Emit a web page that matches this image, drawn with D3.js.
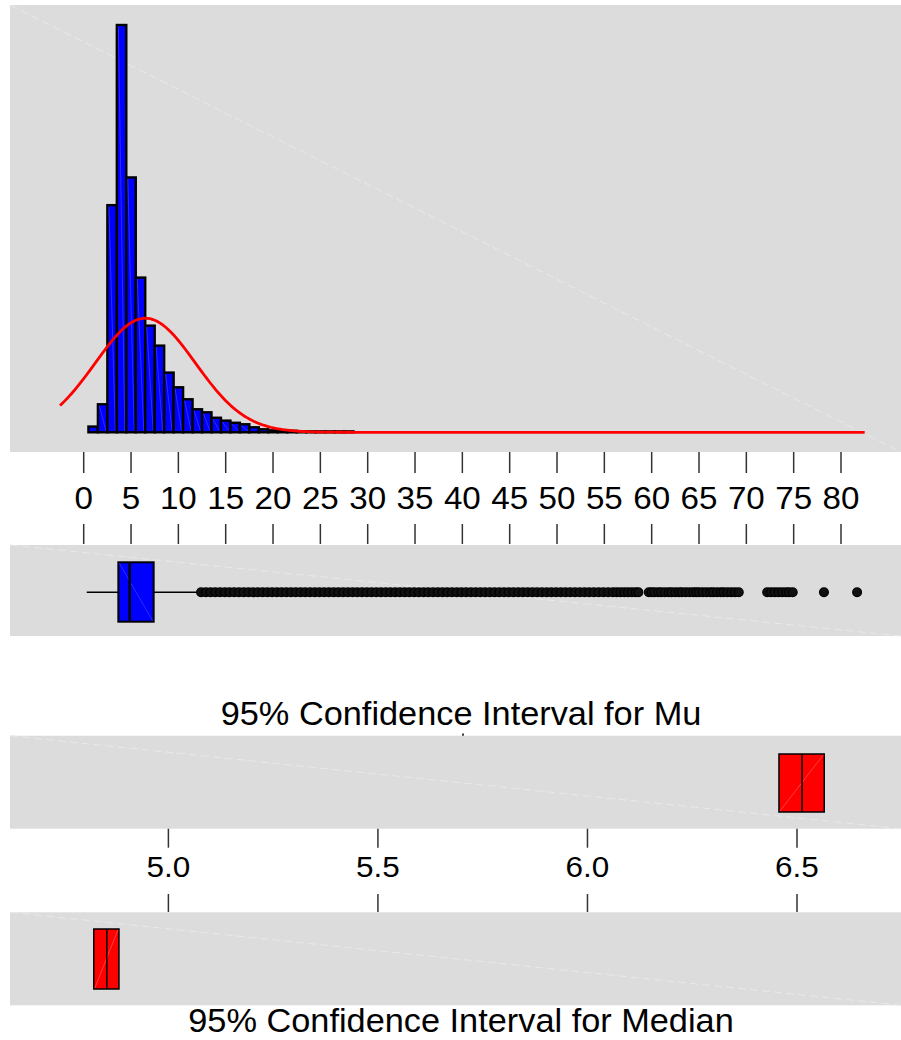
<!DOCTYPE html>
<html>
<head>
<meta charset="utf-8">
<script src="https://cdn.jsdelivr.net/npm/d3@7"></script>
<style>
html,body{margin:0;padding:0;background:#fff;}
svg{display:block;}
text{font-family:"Liberation Sans",Arial,Helvetica,sans-serif;fill:#000;}
</style>
</head>
<body>
<svg id="chart" width="901" height="1040"></svg>
<script>
// ---------- data ----------
const binCenters = [-2,-1,0,1,2,3,4,5,6,7,8,9,10,11,12,13,14,15,16,17,18,19,20,21,22,23,24,25,26,27,28];
const binFreq    = [0,0,0,0.38,1.85,14.99,26.88,16.82,10.21,7.04,5.72,3.94,2.97,2.18,1.52,1.32,0.96,0.77,0.63,0.53,0.33,0.20,0.13,0.13,0.10,0.06,0.06,0.06,0.06,0.06,0.06];
const binWidth = 1;
const fitMean = 6.51, fitSd = 5.3;
const curveRange = [-2.5, 82.5];
const histTicks = [0,5,10,15,20,25,30,35,40,45,50,55,60,65,70,75,80];

const boxStats = {min:0.32, q1:3.66, median:4.86, q3:7.39, max:11.94};
const outliers = [
 12.4,12.9,13.4,13.9,14.4,14.9,15.4,15.9,16.4,16.9,17.4,17.9,18.4,18.9,19.4,19.9,20.4,20.9,21.4,21.9,22.4,22.9,23.4,23.9,24.4,24.9,25.4,25.9,26.4,26.9,27.4,27.9,28.4,28.9,29.4,29.9,30.4,30.9,31.4,31.9,32.4,32.9,33.4,33.9,34.4,34.9,35.4,35.9,36.4,36.9,37.4,37.9,38.4,38.9,39.4,39.9,40.4,40.9,41.4,41.9,42.4,42.9,43.4,43.9,44.4,44.9,45.4,45.9,46.4,46.9,47.4,47.9,48.4,48.9,49.4,49.9,50.4,50.9,51.4,51.9,52.4,52.9,53.4,53.9,54.4,54.9,55.4,55.9,
 56.3,56.7,57.1,57.5,57.9,58.3,58.6,
 59.7,60.0,60.3,60.7,61.0,61.4,61.8,62.1,62.5,62.9,63.2,63.6,64.0,64.4,64.7,65.0,65.4,65.8,66.2,66.5,66.9,67.3,67.6,68.0,68.4,68.8,69.2,
 72.2,72.6,73.0,73.4,73.8,74.2,74.5,74.9,
 78.2,81.7];

const ciMu = {lo:6.457, mid:6.512, hi:6.565};
const ciMedian = {lo:4.822, mid:4.853, hi:4.882};
const ciTicks = [5.0,5.5,6.0,6.5];
const titleMu = "95% Confidence Interval for Mu";
const titleMedian = "95% Confidence Interval for Median";

// ---------- layout ----------
const svg = d3.select("#chart");
const PX0 = 10, PX1 = 901;
const panelFill = "#dcdcdc";
const diagColor = "#e9e9e9";

function panel(y0, y1){
  svg.append("rect").attr("x",PX0).attr("y",y0).attr("width",PX1-PX0).attr("height",y1-y0).attr("fill",panelFill);
  svg.append("line").attr("x1",PX0).attr("y1",y0).attr("x2",PX1).attr("y2",y1)
     .attr("stroke",diagColor).attr("stroke-width",1).attr("stroke-dasharray","8,4");
}
function label(tx, ty, str, size, sx){
  svg.append("text").attr("transform",`translate(${tx},${ty}) scale(${sx},1)`)
    .attr("text-anchor","middle").attr("font-size",size).text(str);
}

const x = d3.scaleLinear().domain([0,80]).range([83.7,841]);

// ---------- histogram panel ----------
panel(5, 452);
const y = d3.scaleLinear().domain([0,26.88]).range([432.3,25]);

const bars = svg.append("g");
binCenters.forEach((c,i)=>{
  const x0 = x(c-binWidth/2), x1 = x(c+binWidth/2);
  const yt = y(binFreq[i]), yb = y(0);
  bars.append("rect").attr("x",x0).attr("y",yt).attr("width",x1-x0).attr("height",yb-yt)
      .attr("fill","#0000ff").attr("stroke","#000").attr("stroke-width",2.4);
  if (yb-yt > 6) {
    bars.append("line").attr("x1",x0+1.5).attr("y1",yt+1.5).attr("x2",x1-1.5).attr("y2",yb-1.5)
      .attr("stroke","#3f3fff").attr("stroke-width",0.7);
  }
});

// fitted normal curve (theoretical density scaled to percent per bin)
const curveXs = d3.range(curveRange[0], curveRange[1]+0.001, 0.25);
const normPct = v => 100*binWidth*Math.exp(-0.5*((v-fitMean)/fitSd)**2)/(fitSd*Math.sqrt(2*Math.PI));
svg.append("path")
  .datum(curveXs)
  .attr("d", d3.line().x(v=>x(v)).y(v=>Math.min(y(normPct(v)), 432.8)))
  .attr("fill","none").attr("stroke","#ff0000").attr("stroke-width",2.8);

// ---------- histogram axis ----------
histTicks.forEach(t=>{
  svg.append("line").attr("x1",x(t)).attr("x2",x(t)).attr("y1",452).attr("y2",473).attr("stroke","#333").attr("stroke-width",1.5);
  svg.append("line").attr("x1",x(t)).attr("x2",x(t)).attr("y1",524).attr("y2",544).attr("stroke","#333").attr("stroke-width",1.5);
  label(x(t), 509, t, 31, 1.07);
});

// ---------- boxplot panel ----------
panel(545, 636);
const bY = 592.3, bTop = 562.3, bBot = 621.7;
const bp = svg.append("g");
bp.append("line").attr("x1",x(boxStats.min)).attr("x2",x(boxStats.q1)).attr("y1",bY).attr("y2",bY).attr("stroke","#000").attr("stroke-width",1.5);
bp.append("line").attr("x1",x(boxStats.q3)).attr("x2",x(boxStats.max)).attr("y1",bY).attr("y2",bY).attr("stroke","#000").attr("stroke-width",1.5);
bp.append("rect").attr("x",x(boxStats.q1)).attr("y",bTop).attr("width",x(boxStats.q3)-x(boxStats.q1)).attr("height",bBot-bTop)
  .attr("fill","#0000ff").attr("stroke","#000").attr("stroke-width",2);
bp.append("line").attr("x1",x(boxStats.q1)+1).attr("y1",bTop+1).attr("x2",x(boxStats.q3)-1).attr("y2",bBot-1).attr("stroke","#3f3fff").attr("stroke-width",0.7);
bp.append("line").attr("x1",x(boxStats.median)).attr("x2",x(boxStats.median)).attr("y1",bTop).attr("y2",bBot).attr("stroke","#000").attr("stroke-width",2.5);
bp.selectAll("circle.out").data(outliers).enter().append("circle")
  .attr("cx",d=>x(d)).attr("cy",bY).attr("r",4.4)
  .attr("fill","#111").attr("stroke","#000").attr("stroke-width",1.2);

// ---------- CI panels ----------
const cx = d3.scaleLinear().domain([5.0,6.5]).range([168.4,797]);

label(461, 725, titleMu, 33, 1.04);
svg.append("line").attr("x1",463).attr("x2",463).attr("y1",733.5).attr("y2",736).attr("stroke","#000").attr("stroke-width",1.5);

function ciBox(ci, yTop, yBot){
  const g = svg.append("g");
  g.append("rect").attr("x",cx(ci.lo)).attr("y",yTop).attr("width",cx(ci.hi)-cx(ci.lo)).attr("height",yBot-yTop)
    .attr("fill","#ff0000").attr("stroke","#000").attr("stroke-width",1.5);
  g.append("line").attr("x1",cx(ci.lo)+1).attr("y1",yBot-1).attr("x2",cx(ci.hi)-1).attr("y2",yTop+1).attr("stroke","#ff5a5a").attr("stroke-width",0.7);
  g.append("line").attr("x1",cx(ci.mid)).attr("x2",cx(ci.mid)).attr("y1",yTop).attr("y2",yBot).attr("stroke","#000").attr("stroke-width",1.5);
}

panel(735.7, 828.7);
ciBox(ciMu, 754, 812);

ciTicks.forEach(t=>{
  svg.append("line").attr("x1",cx(t)).attr("x2",cx(t)).attr("y1",828.7).attr("y2",847.7).attr("stroke","#333").attr("stroke-width",1.5);
  svg.append("line").attr("x1",cx(t)).attr("x2",cx(t)).attr("y1",894).attr("y2",912).attr("stroke","#333").attr("stroke-width",1.5);
  label(cx(t), 877, d3.format(".1f")(t), 30, 1.05);
});

panel(912.3, 1005.3);
ciBox(ciMedian, 929, 989);

label(461, 1032, titleMedian, 33, 1.04);
</script>
</body>
</html>
